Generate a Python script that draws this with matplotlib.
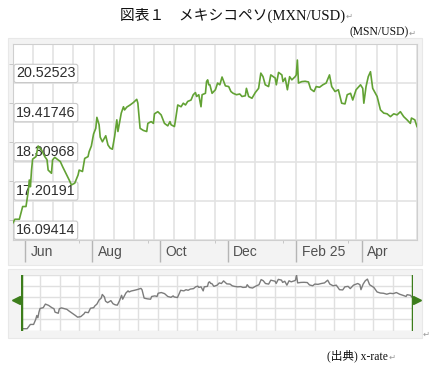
import matplotlib

matplotlib.use("Agg")
import matplotlib.pyplot as plt  # noqa: E402
import numpy as np  # noqa: E402
from matplotlib.patches import Rectangle  # noqa: E402

# data: day offsets from the first date, MXN per USD
start = np.datetime64("2024-05-21")
days = [0, 2, 6, 9, 12, 14, 15, 16, 17, 18, 21, 23, 26, 29, 31, 32, 35, 36, 38, 41,
        43, 45, 48, 51, 53, 56, 59, 60, 63, 65, 68, 69, 71, 72, 73, 75, 76, 78, 79, 81,
        84, 86, 88, 90, 92, 94, 95, 98, 100, 101, 103, 106, 109, 112, 113, 115, 118, 121, 122, 125,
        127, 128, 131, 134, 137, 140, 142, 143, 146, 147, 149, 152, 154, 156, 158, 161, 163, 165, 166, 168,
        170, 171, 174, 175, 176, 177, 178, 180, 183, 185, 187, 189, 192, 195, 197, 199, 202, 205, 207, 210,
        211, 213, 216, 219, 222, 224, 226, 228, 231, 233, 237, 238, 240, 243, 244, 246, 248, 250, 252, 255,
        256, 257, 258, 261, 264, 267, 269, 272, 274, 277, 280, 283, 286, 288, 291, 294, 297, 300, 302, 305,
        307, 310, 314, 316, 317, 319, 321, 323, 324, 325, 329, 332, 335, 338, 341, 344, 347, 350, 353, 356,
        359, 360, 363, 365]
rate = [16.57, 16.68, 16.68, 17.04, 17.04, 17.46, 17.79, 17.60, 18.07, 18.38, 18.45, 18.75, 18.64, 18.45, 18.36, 18.07, 17.98, 18.36, 18.43, 18.36,
        18.31, 18.17, 17.98, 17.79, 17.65, 17.70, 17.93, 18.07, 18.03, 18.40, 18.45, 18.59, 18.75, 18.92, 19.09, 19.25, 19.56, 19.35, 19.00, 18.87,
        19.04, 18.78, 18.69, 18.66, 19.02, 19.49, 19.16, 19.68, 19.86, 19.77, 19.85, 19.91, 19.98, 20.07, 19.96, 19.25, 19.19, 19.16, 19.39, 19.44,
        19.39, 19.66, 19.72, 19.63, 19.39, 19.32, 19.44, 19.35, 19.30, 19.49, 19.91, 19.86, 19.96, 19.91, 20.01, 20.05, 20.20, 20.26, 20.15, 20.20,
        19.86, 20.20, 20.24, 20.57, 20.62, 20.48, 20.48, 20.24, 20.34, 20.53, 20.48, 20.70, 20.45, 20.43, 20.29, 20.24, 20.20, 20.22, 20.15, 20.17,
        20.38, 20.15, 20.10, 20.26, 20.38, 20.81, 20.71, 20.48, 20.43, 20.76, 20.67, 20.48, 20.83, 20.76, 20.57, 20.67, 20.34, 20.71, 20.62, 20.71,
        20.76, 21.18, 20.53, 20.57, 20.58, 20.56, 20.36, 20.29, 20.43, 20.41, 20.48, 20.53, 20.76, 20.43, 20.29, 20.34, 19.96, 19.94, 20.20, 20.24,
        20.05, 20.34, 20.48, 20.38, 19.96, 20.43, 20.71, 20.85, 20.62, 20.38, 20.15, 19.77, 19.68, 19.66, 19.58, 19.66, 19.63, 19.72, 19.58, 19.49,
        19.39, 19.54, 19.49, 19.30]
assert len(days) == len(rate)

y_ticks = [16.09414, 17.20191, 18.30968, 19.41746, 20.52523]
month_dates = np.array(["2024-06-01", "2024-08-01", "2024-10-01", "2024-12-01",
                        "2025-02-01", "2025-04-01"], dtype="datetime64[D]")
month_labels = ["Jun", "Aug", "Oct", "Dec", "Feb 25", "Apr"]
minor_dates = np.array(["2024-07-20", "2024-09-20", "2024-11-20", "2025-01-20",
                        "2025-03-20"], dtype="datetime64[D]")

dates = start + np.array(days)
W, H = 434, 371


def px_box(left, top, right, bottom):
    return [left / W, 1 - bottom / H, (right - left) / W, (bottom - top) / H]


fig = plt.figure(figsize=(W / 100, H / 100), dpi=100)
for box in (px_box(8, 38, 422, 265), px_box(8, 269, 422, 338)):
    fig.patches.append(Rectangle(box[:2], box[2], box[3], transform=fig.transFigure,
                                 fc="#f3f3f3", ec="#e8e8e8", lw=0.8, zorder=-5))

serif_jp = ["Liberation Serif", "Noto Sans CJK JP", "DejaVu Sans"]
fig.text(345 / W, 1 - 15 / H, "図表１　メキシコペソ(MXN/USD)", ha="right", va="center",
         fontsize=10.6, family=serif_jp, color="#111111")
fig.text(409 / W, 1 - 32 / H, "(MSN/USD)", ha="right", va="center",
         fontsize=8.4, family=serif_jp, color="#111111")
fig.text(388 / W, 1 - 356 / H, "(出典) x-rate", ha="right", va="center",
         fontsize=8.4, family=serif_jp, color="#111111")
for x, y in [(346, 16), (409, 33), (389, 357), (423, 334)]:
    fig.text(x / W, 1 - y / H, "↵", ha="left", va="center", fontsize=6,
             family=["DejaVu Sans"], color="#9a9a9a")

# main chart
ax = fig.add_axes(px_box(12.7, 44, 417, 240))
ax.set_facecolor("white")
ax.plot(dates, rate, color="#62a234", lw=1.2, zorder=5)
ax.set_xlim(dates[0], dates[-1])
step = y_ticks[1] - y_ticks[0]
ax.set_ylim(y_ticks[0], y_ticks[-1] + step)
x0, x1 = ax.get_xlim()
for x in np.linspace(x0, x1, 21):
    ax.axvline(x, color="#e3e3e3", lw=1.2, zorder=1)
for y in y_ticks:
    ax.axhline(y, color="#e3e3e3", lw=1.2, zorder=1)
for s in ax.spines.values():
    s.set_color("#cfcfcf")
ax.set_yticks(y_ticks)
ax.set_yticks([v + step / 2 for v in y_ticks], minor=True)
ax.tick_params(axis="y", which="major", length=0, labelleft=False)
ax.tick_params(axis="y", which="minor", length=3, color="#c0c0c0")
ax.set_xticks(month_dates)
ax.set_xticks(minor_dates, minor=True)
ax.tick_params(axis="x", which="major", length=16, width=1, color="#b5b5b5", labelbottom=False)
ax.tick_params(axis="x", which="minor", length=2, color="#c0c0c0")

for v in y_ticks:
    ax.annotate(f"{v:.5f}", xy=(0, v), xycoords=("axes fraction", "data"),
                xytext=(2.5, 2.0), textcoords="offset points", ha="left", va="bottom",
                fontsize=10.3, family="Liberation Sans", color="#2e2e2e", zorder=3,
                bbox=dict(boxstyle="round,pad=0.15,rounding_size=0.15", fc="white",
                          ec="#c9c9c9", lw=0.8))
for d, lab in zip(month_dates, month_labels):
    ax.annotate(lab, xy=(d, 0), xycoords=("data", "axes fraction"),
                xytext=(4, -8.5), textcoords="offset points", ha="left", va="center",
                fontsize=10, family="Liberation Sans", color="#505050")

# navigator
nav = fig.add_axes(px_box(20.7, 274.7, 412.5, 330.5))
nav.set_facecolor("white")
nav.plot(dates, rate, color="#7c7c7c", lw=1.0, zorder=3)
nav.set_xlim(dates[0], dates[-1])
lo, hi = min(rate), max(rate)
nav.set_ylim(lo - 0.04, hi + 0.04)
n0, n1 = nav.get_xlim()
for x in np.linspace(n0, n1, 21):
    nav.axvline(x, color="#e0e0e0", lw=1.0, zorder=1)
for y in np.linspace(lo - 0.04, hi + 0.04, 6):
    nav.axhline(y, color="#e0e0e0", lw=1.0, zorder=1)
for s in nav.spines.values():
    s.set_visible(False)
nav.set_xticks([])
nav.set_yticks([])
for x in (n0, n1):
    nav.axvline(x, color="#3c7d1b", lw=2.5, zorder=4)
nav.plot([-0.012], [0.55], marker="<", ms=6, color="#3c7d1b",
         transform=nav.transAxes, clip_on=False, zorder=4)
nav.plot([1.011], [0.55], marker=">", ms=6, color="#3c7d1b",
         transform=nav.transAxes, clip_on=False, zorder=4)

fig.savefig("out.png", dpi=100)
plt.close(fig)
